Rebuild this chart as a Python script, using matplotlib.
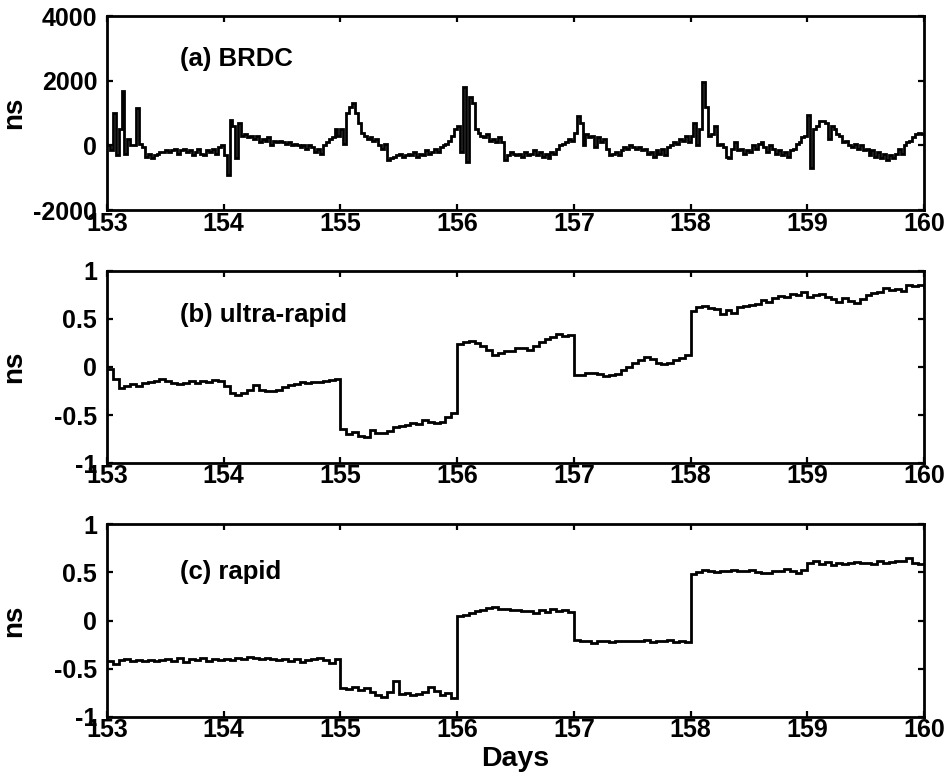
import numpy as np
import matplotlib
matplotlib.use('Agg')
import matplotlib.pyplot as plt

# ---------------- data ----------------
day_start, day_end = 153, 160
xtick_days = [153, 154, 155, 156, 157, 158, 159, 160]
xtick_labels = ['153', '154', '155', '156', '157', '158', '159', '160']

yticks_a = [-2000, 0, 2000, 4000]
ylabels_a = ['-2000', '0', '2000', '4000']
yticks_bc = [-1, -0.5, 0, 0.5, 1]
ylabels_bc = ['-1', '-0.5', '0', '0.5', '1']

panel_titles = ['(a) BRDC', '(b) ultra-rapid', '(c) rapid']

# BRDC clock error (ns), sampled every 0.025 day from day 153.0 to 160.0
brdc = [
    0, -150, 1000, -300, 500, 1700, -250, 200, 0, 0, 1150, 50, -50, -350, -250, -400, -300, -250, -200, -200,
    -150, -200, -150, -100, -250, -150, -100, -200, -150, -300, -200, -100, -250, -300, -150, -200, -100, -250, -50, 0,
    -300, -900, 800, 600, -400, 700, 300, 350, 250, 300, 200, 300, 100, 200, 150, 250, 0, 150, 100, 150,
    100, 50, 100, 0, 50, 0, -50, 0, -100, 0, -50, -200, -100, -250, 0, 100, 200, 250, 500, 300,
    500, 50, 1000, 1200, 1300, 1000, 700, 400, 300, 200, 250, 150, 200, 0, -100, 50, -450, -400, -350, -300,
    -250, -350, -300, -250, -300, -200, -350, -250, -300, -150, -250, -200, -100, -200, -50, 0, 50, 150, 300, 500,
    600, -200, 1800, -500, 1500, 1300, 500, 400, 300, 250, 350, 150, 200, 100, 250, 100, -450, -300, -200, -250,
    -300, -250, -350, -200, -300, -250, -150, -300, -200, -350, -250, -400, -200, -250, -100, 0, 50, 100, 200, 150,
    400, 900, 700, 0, 350, 250, 300, -50, 250, 100, 200, -100, -300, -250, -200, -300, -150, -50, -100, 0,
    -50, -100, -50, -150, -100, -250, -200, -350, -150, -250, -100, -300, -50, 0, 100, 50, 200, 150, 300, 100,
    300, 700, 0, 500, 1950, 1200, 300, 350, 600, 0, 50, -50, -350, -400, -100, 100, -150, -100, -250, -150,
    -200, 0, -100, 50, 100, -50, -200, 0, -100, -250, -150, -300, -200, -350, -150, -100, 50, 100, 250, 300,
    950, -700, 500, 600, 750, 750, 700, 200, 600, 500, 350, 300, 100, 150, 0, -50, 50, -100, 0, -150,
    -100, -300, -150, -350, -200, -400, -250, -450, -300, -400, -250, -100, -250, 0, 100, 150, 250, 350, 400, 350,
    300,
]

# Ultra-rapid clock error (ns), sampled every 0.05 day
ultra_rapid = [
    -0.02, -0.12, -0.22, -0.20, -0.18, -0.20, -0.17, -0.16, -0.15, -0.13, -0.15, -0.17, -0.18, -0.17, -0.15, -0.17, -0.15, -0.16, -0.14, -0.15,
    -0.20, -0.27, -0.29, -0.27, -0.24, -0.19, -0.24, -0.25, -0.25, -0.24, -0.21, -0.19, -0.18, -0.16, -0.17, -0.16, -0.16, -0.15, -0.14, -0.13,
    -0.65, -0.70, -0.68, -0.72, -0.73, -0.66, -0.69, -0.69, -0.67, -0.63, -0.61, -0.60, -0.58, -0.59, -0.55, -0.57, -0.58, -0.57, -0.52, -0.48,
    0.24, 0.26, 0.27, 0.25, 0.22, 0.18, 0.13, 0.15, 0.17, 0.17, 0.20, 0.20, 0.18, 0.22, 0.26, 0.29, 0.31, 0.34, 0.32, 0.33,
    -0.08, -0.08, -0.06, -0.06, -0.07, -0.09, -0.08, -0.07, -0.03, 0.00, 0.04, 0.07, 0.10, 0.08, 0.04, 0.03, 0.04, 0.07, 0.09, 0.12,
    0.58, 0.62, 0.63, 0.61, 0.60, 0.55, 0.59, 0.56, 0.62, 0.64, 0.65, 0.66, 0.70, 0.68, 0.72, 0.74, 0.73, 0.76, 0.75, 0.78,
    0.73, 0.75, 0.76, 0.73, 0.71, 0.68, 0.72, 0.69, 0.67, 0.71, 0.75, 0.77, 0.78, 0.82, 0.80, 0.81, 0.79, 0.85, 0.84, 0.85,
    0.83,
]

# Rapid clock error (ns), sampled every 0.05 day
rapid = [
    -0.42, -0.45, -0.41, -0.40, -0.42, -0.41, -0.42, -0.41, -0.42, -0.41, -0.40, -0.42, -0.39, -0.43, -0.40, -0.41, -0.39, -0.42, -0.40, -0.41,
    -0.40, -0.41, -0.39, -0.40, -0.38, -0.39, -0.40, -0.39, -0.40, -0.41, -0.40, -0.42, -0.40, -0.43, -0.41, -0.40, -0.39, -0.41, -0.44, -0.40,
    -0.70, -0.71, -0.69, -0.72, -0.70, -0.74, -0.77, -0.79, -0.74, -0.63, -0.76, -0.75, -0.77, -0.76, -0.74, -0.69, -0.73, -0.77, -0.75, -0.80,
    0.05, 0.06, 0.08, 0.10, 0.11, 0.13, 0.14, 0.12, 0.12, 0.11, 0.11, 0.10, 0.10, 0.08, 0.11, 0.09, 0.12, 0.10, 0.11, 0.09,
    -0.20, -0.21, -0.21, -0.23, -0.21, -0.21, -0.22, -0.21, -0.21, -0.21, -0.21, -0.21, -0.20, -0.22, -0.21, -0.21, -0.20, -0.22, -0.21, -0.22,
    0.48, 0.50, 0.52, 0.51, 0.50, 0.51, 0.51, 0.52, 0.51, 0.51, 0.52, 0.50, 0.49, 0.49, 0.51, 0.51, 0.53, 0.51, 0.49, 0.52,
    0.60, 0.62, 0.59, 0.61, 0.58, 0.60, 0.59, 0.60, 0.61, 0.60, 0.60, 0.59, 0.62, 0.60, 0.61, 0.62, 0.62, 0.65, 0.60, 0.59,
    0.59,
]

# ---------------- plotting ----------------
plt.rcParams['font.family'] = ['Liberation Sans', 'DejaVu Sans']
plt.rcParams['font.weight'] = 'bold'

fig = plt.figure(figsize=(9.5, 7.84), dpi=100)

axes_rects = [
    [0.1126, 0.732, 0.860, 0.2474],
    [0.1126, 0.4094, 0.860, 0.245],
    [0.1126, 0.0855, 0.860, 0.246],
]

series = [brdc, ultra_rapid, rapid]
ylims = [(-2000, 4000), (-1, 1), (-1, 1)]
ytick_sets = [(yticks_a, ylabels_a), (yticks_bc, ylabels_bc), (yticks_bc, ylabels_bc)]
title_y = [0.78, 0.77, 0.75]

for i in range(3):
    ax = fig.add_axes(axes_rects[i])
    vals = np.asarray(series[i], dtype=float)
    x = np.linspace(day_start, day_end, len(vals))
    ax.plot(x, vals, color='black', lw=2.0, drawstyle='steps-post',
            solid_joinstyle='miter')
    ax.set_xlim(day_start, day_end)
    ax.set_ylim(*ylims[i])
    ax.set_xticks(xtick_days)
    ax.set_xticklabels(xtick_labels)
    ax.set_yticks(ytick_sets[i][0])
    ax.set_yticklabels(ytick_sets[i][1])
    ax.tick_params(direction='in', top=True, right=True, length=4, width=1.6,
                   labelsize=18)
    ax.tick_params(axis='x', pad=1)
    ax.tick_params(axis='y', pad=7)
    for s in ax.spines.values():
        s.set_linewidth(2.0)
    ax.set_ylabel('ns', fontsize=20, fontweight='bold')
    ax.yaxis.set_label_coords(-0.098, 0.5)
    ax.text(0.089, title_y[i], panel_titles[i], transform=ax.transAxes,
            fontsize=18.5, fontweight='bold', ha='left', va='center')
    if i == 2:
        ax.set_xlabel('Days', fontsize=20.5, fontweight='bold')
        ax.xaxis.set_label_coords(0.5, -0.15)

fig.savefig('out.png', dpi=100)
